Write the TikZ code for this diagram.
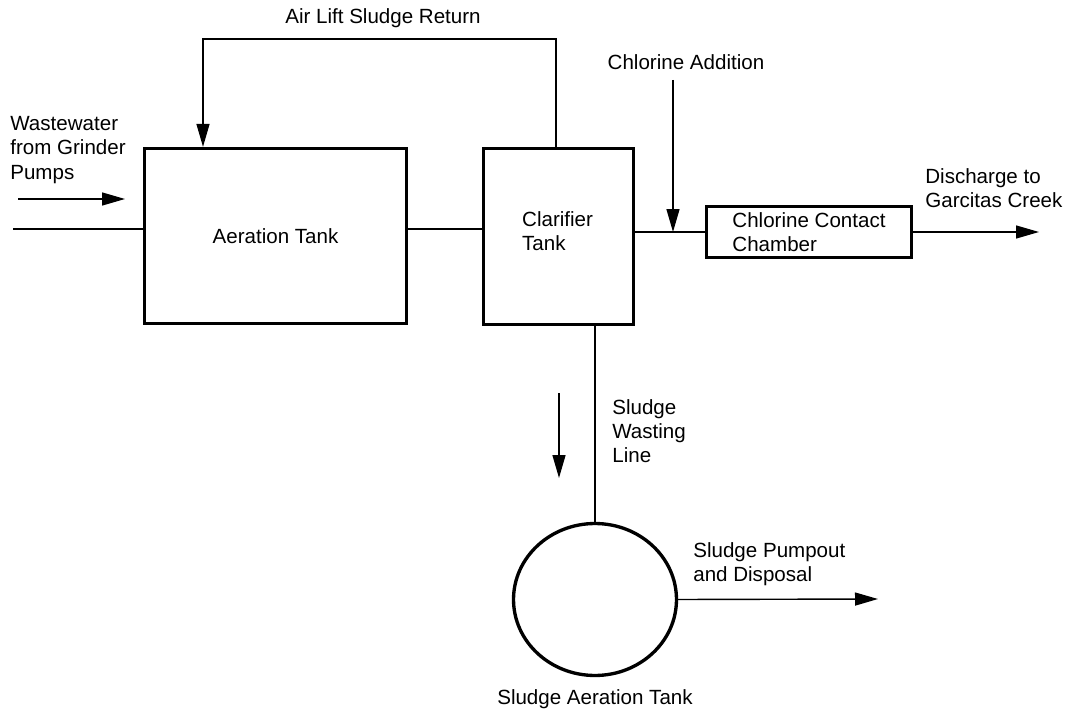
\documentclass[tikz,border=0pt]{standalone}
\usepackage{fontspec}
\setmainfont{Liberation Sans}
\usepackage{tikz}
\usetikzlibrary{arrows.meta,positioning,shapes.geometric}

\begin{document}
\begin{tikzpicture}[x=0.02cm, y=-0.02cm, >={Triangle[length=0.46cm,width=0.26cm]},
  flow/.style={line width=0.8pt},
  tank/.style={draw, line width=1.9pt, inner sep=0pt, align=left},
  lab/.style={inner sep=0pt, align=left},
  every node/.style={font=\fontsize{11.7}{13.7}\selectfont}]
\useasboundingbox (0,0) rectangle (1073,713);
\node[tank, minimum width=5.24cm, minimum height=3.5cm] (aer) at (275.5,236) {Aeration Tank};
\node[tank, minimum width=3.0cm, minimum height=3.52cm] (clar) at (558.5,236.5) {};
\node[lab, right=0.8cm of clar.west, yshift=0.1cm] (clartext) {Clarifier\\Tank};
\node[tank, minimum width=4.1cm, minimum height=1.02cm] (chl) at (809,232) {Chlorine Contact\\Chamber};
\node[tank, ellipse, minimum width=3.26cm, minimum height=3.04cm] (sat) at (595,599.5) {};
% free ends of the flow lines
\coordinate (inlet) at (13,229);
\coordinate (ww) at (18,199);
\coordinate (wwend) at (125,199);
\coordinate (rtop) at (556,39);
\coordinate (ltop) at (203,39);
\coordinate (cladd) at (673,80);
\coordinate (outlet) at (1039,232);
\coordinate (dn) at (559,393);
\coordinate (dnend) at (559,478);
\coordinate (pump) at (878,599);
% flows
\draw[flow] (inlet) -- (inlet -| aer.west);
\draw[flow, ->] (ww) -- (wwend);
\draw[flow] (aer.east |- inlet) -- (clar.west |- inlet);
\draw[flow] (clar.east |- chl.west) -- (chl.west);
\draw[flow, ->] (cladd) -- (cladd |- chl.west);
\draw[flow, ->] (chl.east) -- (outlet);
\draw[flow, ->] (clar.north -| rtop) -- (rtop) -- (ltop) -- (ltop |- aer.north);
\draw[flow] (sat.north |- clar.south) -- (sat.north);
\draw[flow, ->] (dn) -- (dnend);
\draw[flow, ->] (sat.east) -- (pump);
% labels
\node[lab] (airlift) at (383,18) {Air Lift Sludge Return};
\node[lab] (chladd) at (686,62) {Chlorine Addition};
\node[lab, anchor=west] (wwtext) at (10,150) {Wastewater\\from Grinder\\Pumps};
\node[lab, anchor=west] (disch) at (925,188) {Discharge to\\Garcitas Creek};
\node[lab, anchor=west] (waste) at (612,431) {Sludge\\Wasting\\Line};
\node[lab, anchor=west] (pumpout) at (693,564) {Sludge Pumpout\\and Disposal};
\node[lab] (sattext) at (595,699) {Sludge Aeration Tank};
\end{tikzpicture}
\end{document}
